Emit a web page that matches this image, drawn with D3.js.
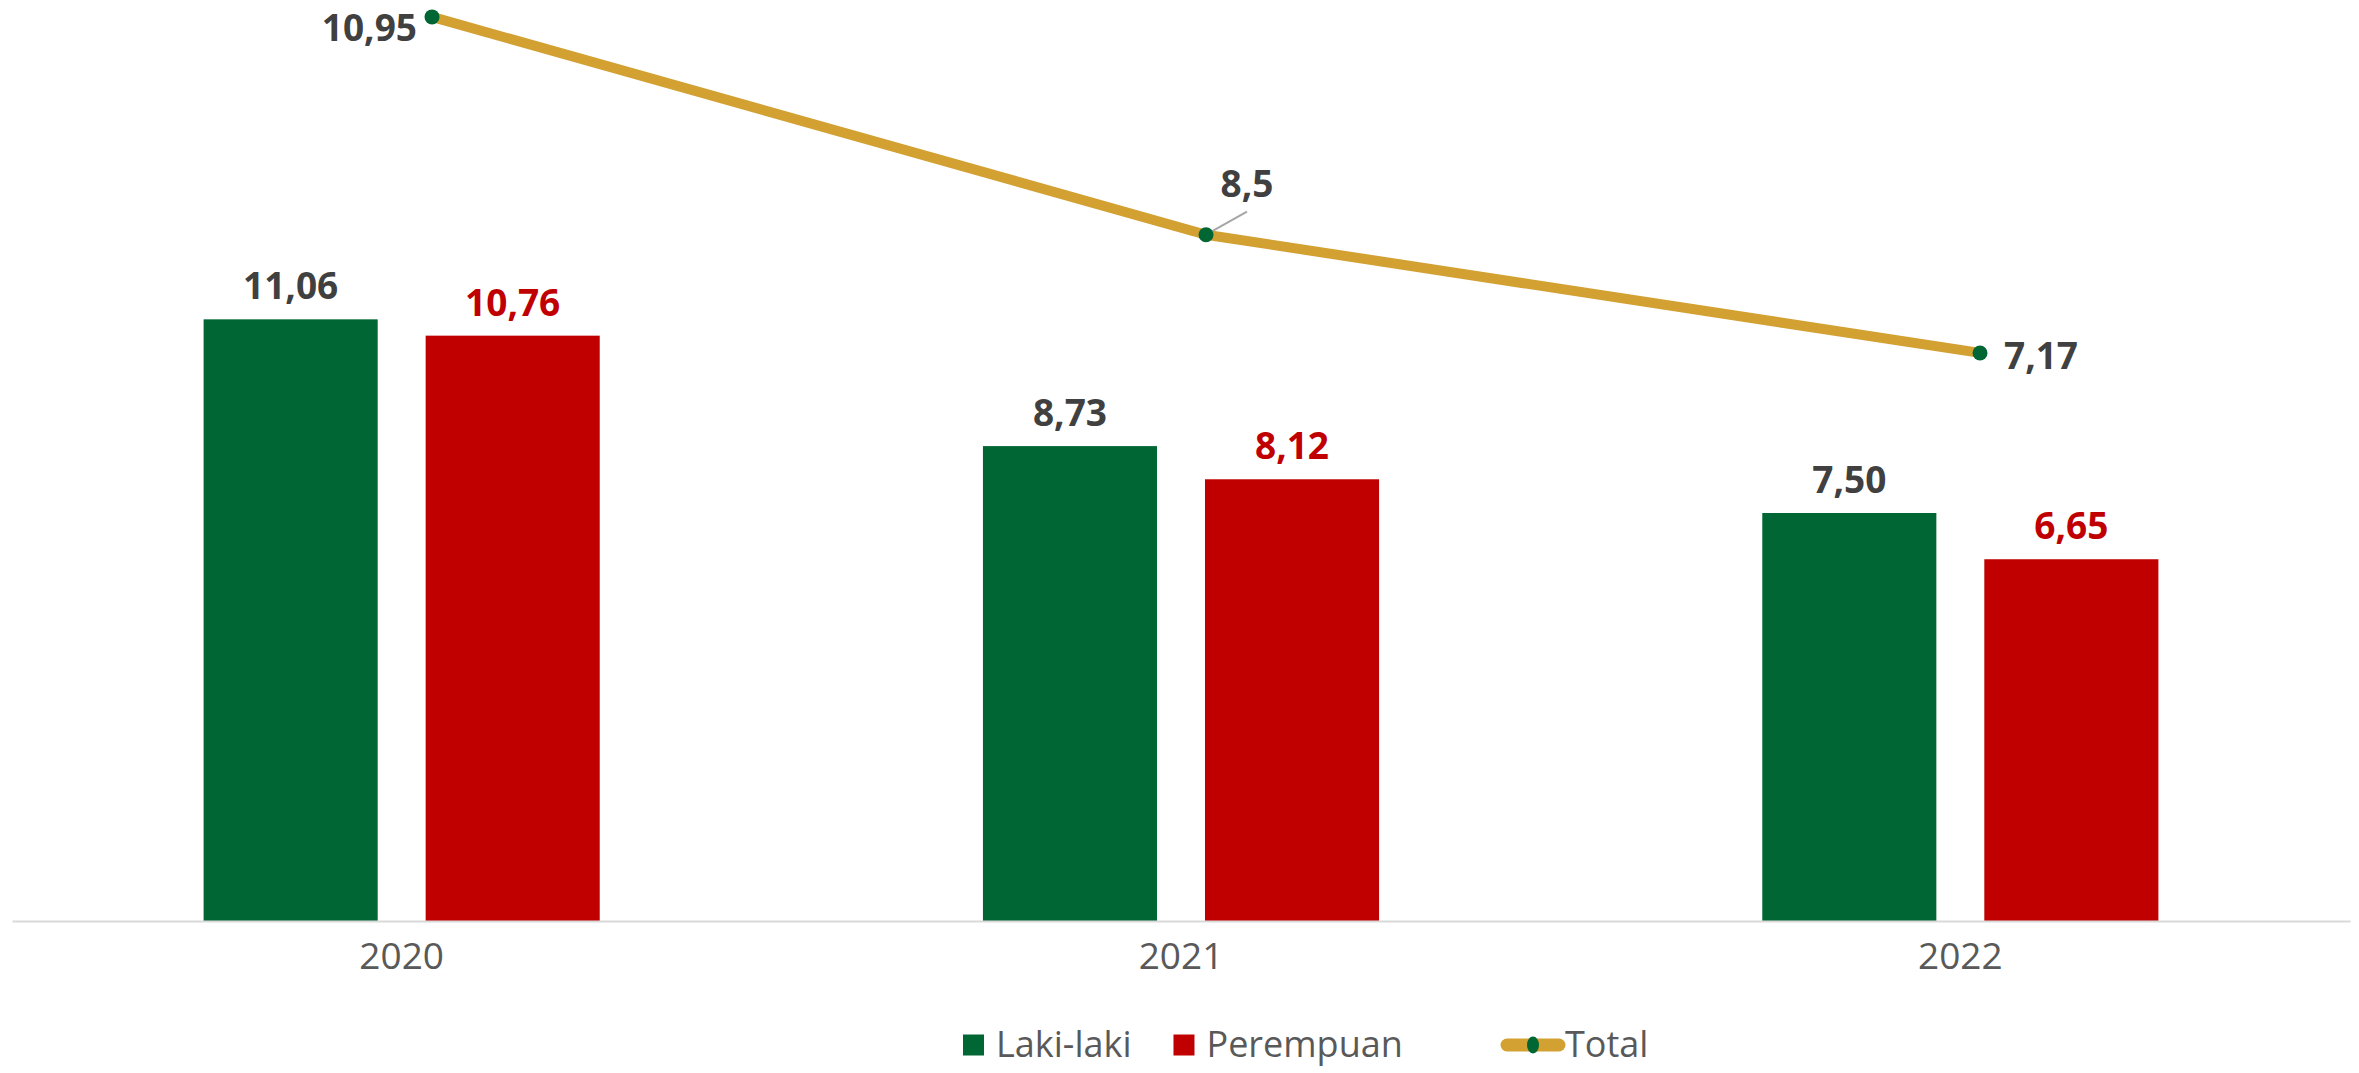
<!DOCTYPE html>
<html>
<head>
<meta charset="utf-8">
<script src="https://cdn.jsdelivr.net/npm/d3@7/dist/d3.min.js"></script>
<style>
  html, body { margin: 0; padding: 0; background: #ffffff; }
  svg { display: block; }
</style>
</head>
<body>
<svg id="chart" width="2359" height="1073"></svg>
<script>
// Data
const years = ["2020", "2021", "2022"];
const seriesNames = ["Laki-laki", "Perempuan"];
const lakiLaki = [11.06, 8.73, 7.50];
const perempuan = [10.76, 8.12, 6.65];
const total = [10.95, 8.5, 7.17];
const totalLabels = ["10,95", "8,5", "7,17"];

const colors = { "Laki-laki": "#006633", "Perempuan": "#C00000" };
const lineColor = "#D3A032";
const dotColor = "#006633";
const labelGray = "#404040";
const fontFamily = "'Open Sans', 'Noto Sans', sans-serif";

const fmt = v => v.toFixed(2).replace(".", ",");

const svg = d3.select("#chart");
const plot = { left: 12, right: 2350, bottom: 921 };

// Scales
const x0 = d3.scaleBand().domain(years).range([plot.left, plot.right]).paddingInner(0).paddingOuter(0);
const x1 = d3.scaleBand().domain(seriesNames).range([0, x0.bandwidth()])
  .paddingInner(0.216).paddingOuter(0.863);
const y = d3.scaleLinear().domain([0, 16]).range([plot.bottom, plot.bottom - 16 * 54.4]);
// Secondary axis for the total line
const xLine = d3.scalePoint().domain(years).range([432, 1980]);
const y2 = d3.scaleLinear().domain([0.78, 11]).range([plot.bottom, plot.bottom - 10.22 * 88.9]);

// Bars
const barData = years.map((yr, i) => ({
  year: yr,
  values: [
    { name: "Laki-laki", value: lakiLaki[i] },
    { name: "Perempuan", value: perempuan[i] }
  ]
}));

const groups = svg.append("g").selectAll("g")
  .data(barData).join("g")
  .attr("transform", d => `translate(${x0(d.year)},0)`);

groups.selectAll("rect")
  .data(d => d.values).join("rect")
  .attr("x", d => x1(d.name))
  .attr("y", d => y(d.value))
  .attr("width", x1.bandwidth())
  .attr("height", d => y(0) - y(d.value))
  .attr("fill", d => colors[d.name]);

groups.selectAll("text")
  .data(d => d.values).join("text")
  .attr("x", d => x1(d.name) + x1.bandwidth() / 2)
  .attr("y", d => y(d.value) - 20)
  .attr("text-anchor", "middle")
  .attr("font-family", fontFamily)
  .attr("font-weight", 700)
  .attr("font-size", 37)
  .attr("fill", d => d.name === "Perempuan" ? "#C00000" : labelGray)
  .text(d => fmt(d.value));

// X axis
const xAxis = d3.axisBottom(x0).tickSize(0).tickPadding(22);
const axisG = svg.append("g")
  .attr("transform", `translate(0,${plot.bottom})`)
  .call(xAxis);
axisG.select(".domain").attr("stroke", "#d9d9d9").attr("stroke-width", 2);
axisG.selectAll(".tick text")
  .attr("font-family", fontFamily)
  .attr("font-size", 37)
  .attr("fill", "#595959");

// Total line
const lineData = years.map((yr, i) => ({ year: yr, value: total[i], label: totalLabels[i] }));
const line = d3.line().x(d => xLine(d.year)).y(d => y2(d.value));

svg.append("path")
  .datum(lineData)
  .attr("d", line)
  .attr("fill", "none")
  .attr("stroke", lineColor)
  .attr("stroke-width", 10)
  .attr("stroke-linejoin", "round");

// Leader line for the middle label
const mid = lineData[1];
svg.append("line")
  .attr("x1", xLine(mid.year)).attr("y1", y2(mid.value))
  .attr("x2", xLine(mid.year) + 41).attr("y2", y2(mid.value) - 23)
  .attr("stroke", "#A6A6A6").attr("stroke-width", 2);

svg.append("g").selectAll("circle")
  .data(lineData).join("circle")
  .attr("cx", d => xLine(d.year))
  .attr("cy", d => y2(d.value))
  .attr("r", 7.5)
  .attr("fill", dotColor);

// Total labels: left, above-right, right
const labelPlacement = [
  { dx: -15, dy: 10, anchor: "end", baseline: "central" },
  { dx: 41, dy: -38, anchor: "middle", baseline: "auto" },
  { dx: 24, dy: 2, anchor: "start", baseline: "central" }
];
svg.append("g").selectAll("text")
  .data(lineData).join("text")
  .attr("x", (d, i) => xLine(d.year) + labelPlacement[i].dx)
  .attr("y", (d, i) => y2(d.value) + labelPlacement[i].dy)
  .attr("text-anchor", (d, i) => labelPlacement[i].anchor)
  .attr("dominant-baseline", (d, i) => labelPlacement[i].baseline)
  .attr("font-family", fontFamily)
  .attr("font-weight", 700)
  .attr("font-size", 37)
  .attr("fill", labelGray)
  .text(d => d.label);

// Legend
const legend = svg.append("g").attr("transform", "translate(0,1045)");
const legendFont = g => g.attr("font-family", fontFamily).attr("font-size", 36).attr("fill", "#595959");

let cx = 963;
seriesNames.forEach((name) => {
  legend.append("rect")
    .attr("x", cx).attr("y", -10.5).attr("width", 21).attr("height", 21)
    .attr("fill", colors[name]);
  const t = legend.append("text")
    .attr("x", cx + 33).attr("y", 12)
    .call(legendFont)
    .text(name);
  cx += 33 + t.node().getComputedTextLength() + 42;
});
cx = 1500;
legend.append("line")
  .attr("x1", cx + 7).attr("x2", cx + 59).attr("y1", 0).attr("y2", 0)
  .attr("stroke", lineColor).attr("stroke-width", 13).attr("stroke-linecap", "round");
legend.append("ellipse")
  .attr("cx", cx + 33).attr("cy", 0).attr("rx", 6).attr("ry", 8.5)
  .attr("fill", dotColor);
legend.append("text")
  .attr("x", cx + 65).attr("y", 12)
  .call(legendFont)
  .text("Total");
</script>
</body>
</html>
